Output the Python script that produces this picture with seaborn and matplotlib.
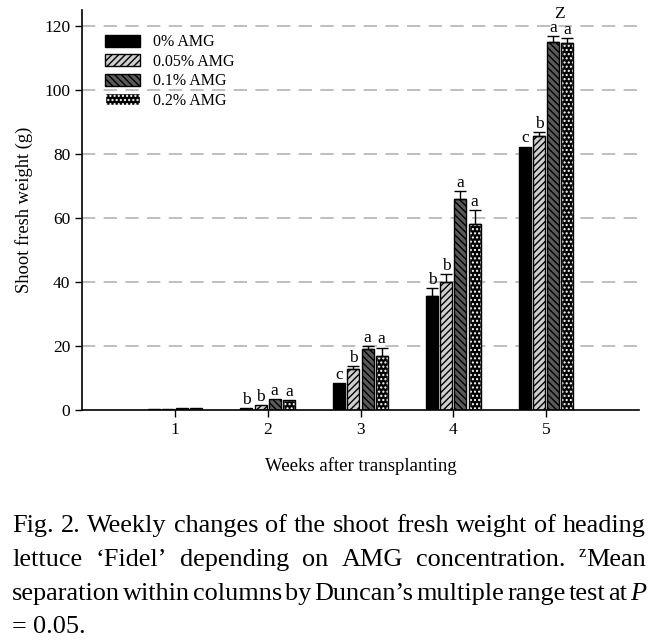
import matplotlib
matplotlib.use("Agg")
import matplotlib.pyplot as plt
from matplotlib.patches import Patch, Rectangle
import seaborn as sns
import pandas as pd
import numpy as np

weeks = ["1", "2", "3", "4", "5"]
treatments = ["0% AMG", "0.05% AMG", "0.1% AMG", "0.2% AMG"]
means = {
    "0% AMG":    [0.2, 0.7, 8.4, 35.6, 82.3],
    "0.05% AMG": [0.3, 1.5, 12.8, 40.0, 85.6],
    "0.1% AMG":  [0.5, 3.3, 19.0, 66.0, 115.0],
    "0.2% AMG":  [0.6, 3.2, 17.0, 58.0, 114.8],
}
errs = {
    "0% AMG":    [0.0, 0.0, 0.0, 2.5, 0.0],
    "0.05% AMG": [0.0, 0.0, 1.0, 2.5, 1.2],
    "0.1% AMG":  [0.0, 0.0, 1.0, 2.4, 1.8],
    "0.2% AMG":  [0.0, 0.0, 2.5, 4.5, 1.3],
}
letters = {
    "0% AMG":    ["", "b", "c", "b", "c"],
    "0.05% AMG": ["", "b", "b", "b", "b"],
    "0.1% AMG":  ["", "a", "a", "a", "a"],
    "0.2% AMG":  ["", "a", "a", "a", "a"],
}
yticks = [0, 20, 40, 60, 80, 100, 120]

styles = {
    "0% AMG":    dict(face="black", hatch=None, hcol="black"),
    "0.05% AMG": dict(face="#cfcfcf", hatch="/////", hcol="black"),
    "0.1% AMG":  dict(face="#5a5a5a", hatch="\\\\\\\\\\", hcol="black"),
    "0.2% AMG":  dict(face="black", hatch="....", hcol="white"),
}

rows = []
for t in treatments:
    for i, w in enumerate(weeks):
        rows.append(dict(week=w, treatment=t, value=means[t][i]))
df = pd.DataFrame(rows)

serif = "Liberation Serif"
plt.rcParams["font.family"] = serif
plt.rcParams["hatch.linewidth"] = 1.0

W, H = 662, 643
fig = plt.figure(figsize=(W / 100, H / 100), dpi=100)
ax = fig.add_axes([82 / W, 1 - 410 / H, (639 - 82) / W, (410 - 10) / H])

sns.barplot(data=df, x="week", y="value", hue="treatment", order=weeks,
            hue_order=treatments, errorbar=None, width=0.61, gap=0.145,
            ax=ax, legend=False, edgecolor="black", linewidth=1.0)

bars = [p for p in ax.patches if isinstance(p, Rectangle)]
k = 0
for t in treatments:
    st = styles[t]
    for i, w in enumerate(weeks):
        p = bars[k]; k += 1
        p.set_facecolor(st["face"])
        x0, wd, h = p.get_x(), p.get_width(), p.get_height()
        if st["hatch"]:
            p.set_hatch(st["hatch"])
            p.set_edgecolor(st["hcol"])
            if st["hcol"] != "black":
                ax.add_patch(Rectangle((x0, 0), wd, h, fill=False,
                                       edgecolor="black", lw=1.0, zorder=p.get_zorder() + 0.1))
        xc = x0 + wd / 2
        e = errs[t][i]
        top = h
        if e > 0:
            ax.errorbar(xc, h, yerr=[[0], [e]], fmt="none", ecolor="black",
                        elinewidth=1.0, capsize=4.2, capthick=1.0, zorder=5)
            top = h + e
        if letters[t][i]:
            ax.text(xc, top + 1.3, letters[t][i], ha="center", va="baseline",
                    fontsize=12.5, family=serif)

ax.text(4 + 0.14, 122.6, "Z", ha="center", va="baseline", fontsize=12.5, family=serif)

ax.set_xlim(-1, 5)
ax.set_ylim(0, 125)
ax.set_yticks(yticks)
ax.set_yticklabels([str(v) for v in yticks])
for v in yticks[1:]:
    ax.axhline(v, color="#b4b4b4", lw=1.2, ls=(0, (8, 5)), zorder=0)
ax.set_axisbelow(True)
sns.despine(ax=ax)
for s in ["left", "bottom"]:
    ax.spines[s].set_linewidth(1.2)
ax.tick_params(axis="both", direction="out", length=5, width=1.0, labelsize=12.5)
ax.set_xlabel("Weeks after transplanting", fontsize=13.5, labelpad=14)
ax.set_ylabel("Shoot fresh weight (g)", fontsize=13.3, labelpad=8)

handles = []
for t in treatments:
    st = styles[t]
    handles.append(Patch(facecolor=st["face"], edgecolor=st["hcol"] if st["hatch"] else "black",
                         hatch=st["hatch"], lw=1.0, label=t))
ax.legend(handles=handles, loc="upper left", bbox_to_anchor=(0.03, 0.955), frameon=False,
          fontsize=11.5, handlelength=2.2, handleheight=0.8, labelspacing=0.22,
          handletextpad=0.8, borderaxespad=0)

# caption, justified
left, right = 12, 646
renderer = fig.canvas.get_renderer()

def seg_width(s, kw, fs):
    t = fig.text(0, 0, s, fontsize=kw.get("size", fs), style=kw.get("style", "normal"), family=serif)
    wdt = t.get_window_extent(renderer).width
    t.remove()
    return wdt

N = {}
def plain(line):
    return [[(w, N)] for w in line.split()]

line1 = plain("Fig. 2. Weekly changes of the shoot fresh weight of heading")
line2 = plain("lettuce ‘Fidel’ depending on AMG concentration.") + [[("z", {"size": 12, "rise": 9}), ("Mean", N)]]
line3 = plain("separation within columns by Duncan’s multiple range test at") + [[("P", {"style": "italic"})]]
line4 = plain("= 0.05.")

def natural(words, fs, spfac=1.0):
    sp = (seg_width("a a", N, fs) - seg_width("aa", N, fs)) * spfac
    return sum(sum(seg_width(s, kw, fs) for s, kw in wd) for wd in words) + sp * (len(words) - 1)

fs0 = 10
fs = min(fs0 * (right - left) / natural(line1, fs0, 1.0),
         fs0 * (right - left) / natural(line3, fs0, 0.45)) * 0.998

def draw_line(words, base_y, justify=True):
    widths = [sum(seg_width(s, kw, fs) for s, kw in wd) for wd in words]
    total = sum(widths)
    if justify and len(words) > 1:
        gap = (right - left - total) / (len(words) - 1)
    else:
        gap = seg_width("a a", N, fs) - seg_width("aa", N, fs)
    x = left
    for wd, wdt in zip(words, widths):
        xx = x
        for s, kw in wd:
            dy = kw.get("rise", 0)
            fig.text(xx / W, 1 - (base_y - dy) / H, s, fontsize=kw.get("size", fs),
                     style=kw.get("style", "normal"), family=serif, va="baseline", ha="left")
            xx += seg_width(s, kw, fs)
        x += wdt + gap

draw_line(line1, 532)
draw_line(line2, 566)
draw_line(line3, 600)
draw_line(line4, 633, justify=False)

fig.savefig("out.png", dpi=100)
